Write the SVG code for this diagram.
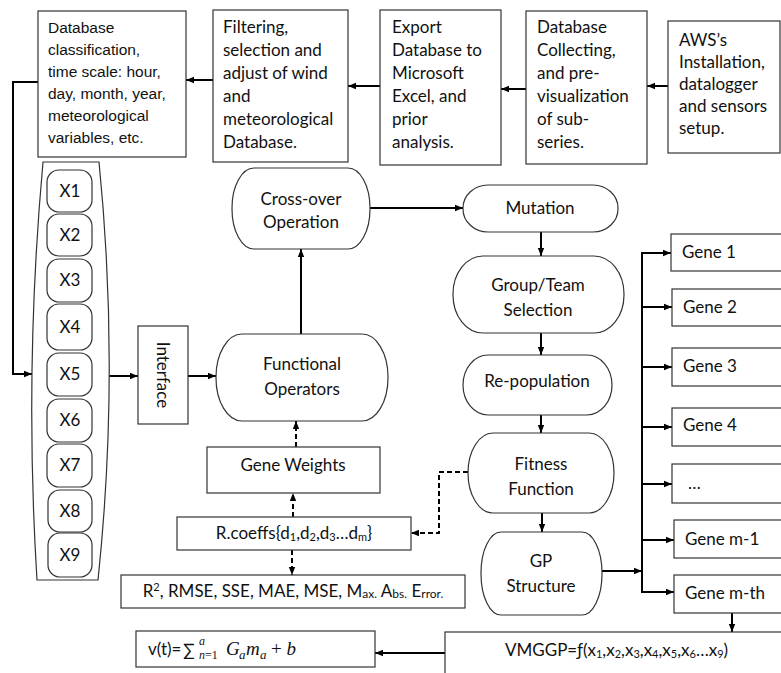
<svg xmlns="http://www.w3.org/2000/svg" width="781" height="673" viewBox="0 0 781 673">
<defs>
<style>
.box{fill:#fff;stroke:#333;stroke-width:1.2}
.t{font-family:Lato,"Open Sans",sans-serif;font-size:17px;fill:#111}
.tm{text-anchor:middle}
.ta{font-family:"Liberation Sans",Arial,sans-serif;font-size:15.5px;fill:#111}
.c{stroke:#000;stroke-width:2;fill:none}
.d{stroke-dasharray:5 3}
.m{font-family:"Liberation Serif","DejaVu Serif",serif;font-style:italic;fill:#111}
</style>
<marker id="ah" viewBox="0 0 10 10" refX="10" refY="5" markerWidth="8" markerHeight="8" markerUnits="userSpaceOnUse" orient="auto"><path d="M0,1 L10,5 L0,9 z" fill="#000"/></marker>
</defs>
<rect width="781" height="673" fill="#fff"/>

<g id="connectors">
<line class="c" x1="668" y1="86" x2="647" y2="86" marker-end="url(#ah)"/>
<line class="c" x1="526" y1="89" x2="501" y2="89" marker-end="url(#ah)"/>
<line class="c" x1="380" y1="86" x2="348" y2="86" marker-end="url(#ah)"/>
<line class="c" x1="213" y1="80" x2="186" y2="80" marker-end="url(#ah)"/>
<polyline class="c" points="38,82 13,82 13,374 32,374" marker-end="url(#ah)"/>
<line class="c" x1="109" y1="376" x2="138" y2="376" marker-end="url(#ah)"/>
<line class="c" x1="188" y1="376" x2="216" y2="376" marker-end="url(#ah)"/>
<line class="c" x1="301" y1="334" x2="301" y2="249" marker-end="url(#ah)"/>
<line class="c" x1="370" y1="208" x2="463" y2="208" marker-end="url(#ah)"/>
<line class="c" x1="541" y1="232" x2="541" y2="256" marker-end="url(#ah)"/>
<line class="c" x1="541" y1="333" x2="541" y2="355" marker-end="url(#ah)"/>
<line class="c" x1="541" y1="415" x2="541" y2="433" marker-end="url(#ah)"/>
<line class="c" x1="542" y1="513" x2="542" y2="532" marker-end="url(#ah)"/>
<line class="c" x1="602" y1="571" x2="642" y2="571" marker-end="url(#ah)"/>
<line class="c" x1="642" y1="252" x2="642" y2="593"/>
<line class="c" x1="641" y1="253" x2="671" y2="253" marker-end="url(#ah)"/>
<line class="c" x1="641" y1="307" x2="672" y2="307" marker-end="url(#ah)"/>
<line class="c" x1="641" y1="367" x2="672" y2="367" marker-end="url(#ah)"/>
<line class="c" x1="641" y1="427" x2="672" y2="427" marker-end="url(#ah)"/>
<line class="c" x1="641" y1="484" x2="672" y2="484" marker-end="url(#ah)"/>
<line class="c" x1="641" y1="540" x2="674" y2="540" marker-end="url(#ah)"/>
<line class="c" x1="641" y1="592" x2="674" y2="592" marker-end="url(#ah)"/>
<line class="c" x1="732" y1="613" x2="732" y2="632" marker-end="url(#ah)"/>
<line class="c" x1="445" y1="653" x2="375" y2="653" marker-end="url(#ah)"/>
<polyline class="c d" points="468,472 439,472 439,533 411,533" marker-end="url(#ah)"/>
<line class="c d" x1="293" y1="517" x2="293" y2="493" marker-end="url(#ah)"/>
<line class="c d" x1="296" y1="447" x2="296" y2="421" marker-end="url(#ah)"/>
<line class="c d" x1="292" y1="550" x2="292" y2="575" marker-end="url(#ah)"/>
</g>

<g id="db-classification">
<rect class="box" x="38" y="11" width="148" height="146"/>
<text class="ta" x="48" y="33">Database</text>
<text class="ta" x="48" y="55">classification,</text>
<text class="ta" x="48" y="77">time scale: hour,</text>
<text class="ta" x="48" y="99">day, month, year,</text>
<text class="ta" x="48" y="121">meteorological</text>
<text class="ta" x="48" y="143">variables, etc.</text>
</g>

<g id="filtering">
<rect class="box" x="213" y="10" width="135" height="152"/>
<text class="t" x="223" y="33">Filtering,</text>
<text class="t" x="223" y="56">selection and</text>
<text class="t" x="223" y="79">adjust of wind</text>
<text class="t" x="223" y="102">and</text>
<text class="t" x="223" y="125">meteorological</text>
<text class="t" x="223" y="148">Database.</text>
</g>

<g id="export">
<rect class="box" x="380" y="10" width="121" height="155"/>
<text class="t" x="392" y="33">Export</text>
<text class="t" x="392" y="56">Database to</text>
<text class="t" x="392" y="79">Microsoft</text>
<text class="t" x="392" y="102">Excel, and</text>
<text class="t" x="392" y="125">prior</text>
<text class="t" x="392" y="148">analysis.</text>
</g>

<g id="db-collecting">
<rect class="box" x="526" y="11" width="121" height="153"/>
<text class="t" x="537" y="33">Database</text>
<text class="t" x="537" y="56">Collecting,</text>
<text class="t" x="537" y="79">and pre-</text>
<text class="t" x="537" y="102">visualization</text>
<text class="t" x="537" y="125">of sub-</text>
<text class="t" x="537" y="148">series.</text>
</g>

<g id="aws">
<rect class="box" x="668" y="21" width="112" height="132"/>
<text class="t" x="679" y="46">AWS’s</text>
<text class="t" x="679" y="68">Installation,</text>
<text class="t" x="679" y="90">datalogger</text>
<text class="t" x="679" y="112">and sensors</text>
<text class="t" x="679" y="134">setup.</text>
</g>

<g id="x-column">
<path class="box" d="M43,162 L99,162 Q120,371 98,580 L37,580 Q24,371 43,162 Z"/>
</g>
<g id="x1"><rect class="box" x="47" y="170" width="45" height="42" rx="12"/><text class="t tm" x="70" y="197">X1</text></g>
<g id="x2"><rect class="box" x="47" y="214" width="45" height="42" rx="12"/><text class="t tm" x="70" y="241">X2</text></g>
<g id="x3"><rect class="box" x="47" y="259" width="45" height="43" rx="12"/><text class="t tm" x="70" y="286">X3</text></g>
<g id="x4"><rect class="box" x="47" y="304" width="45" height="46" rx="12"/><text class="t tm" x="70" y="333">X4</text></g>
<g id="x5"><rect class="box" x="47" y="353" width="45" height="43" rx="12"/><text class="t tm" x="70" y="380">X5</text></g>
<g id="x6"><rect class="box" x="47" y="399" width="45" height="43" rx="12"/><text class="t tm" x="70" y="426">X6</text></g>
<g id="x7"><rect class="box" x="47" y="444" width="45" height="43" rx="12"/><text class="t tm" x="70" y="471">X7</text></g>
<g id="x8"><rect class="box" x="48" y="490" width="44" height="42" rx="12"/><text class="t tm" x="70" y="517">X8</text></g>
<g id="x9"><rect class="box" x="48" y="533" width="44" height="44" rx="12"/><text class="t tm" x="70" y="561">X9</text></g>

<g id="interface">
<rect class="box" x="138" y="326" width="50" height="98"/>
<text class="t tm" transform="translate(157,375) rotate(90)" x="0" y="0">Interface</text>
</g>

<g id="functional-operators">
<rect class="box" x="216" y="334" width="172" height="87" rx="26" ry="43"/>
<text class="t tm" x="302" y="370">Functional</text>
<text class="t tm" x="302" y="395">Operators</text>
</g>

<g id="cross-over">
<rect class="box" x="232" y="168" width="138" height="81" rx="22" ry="40"/>
<text class="t tm" x="301" y="205">Cross-over</text>
<text class="t tm" x="301" y="228">Operation</text>
</g>

<g id="mutation">
<rect class="box" x="463" y="185" width="155" height="47" rx="25" ry="23"/>
<text class="t tm" x="540" y="214">Mutation</text>
</g>

<g id="group-selection">
<rect class="box" x="453" y="256" width="171" height="77" rx="30" ry="38"/>
<text class="t tm" x="538" y="291">Group/Team</text>
<text class="t tm" x="538" y="316">Selection</text>
</g>

<g id="re-population">
<rect class="box" x="463" y="355" width="149" height="60" rx="25" ry="30"/>
<text class="t tm" x="537" y="387">Re-population</text>
</g>

<g id="fitness">
<rect class="box" x="468" y="433" width="146" height="80" rx="25" ry="40"/>
<text class="t tm" x="541" y="470">Fitness</text>
<text class="t tm" x="541" y="495">Function</text>
</g>

<g id="gp-structure">
<rect class="box" x="481" y="532" width="121" height="83" rx="20" ry="41"/>
<text class="t tm" x="541" y="567">GP</text>
<text class="t tm" x="541" y="592">Structure</text>
</g>

<g id="gene-weights">
<rect class="box" x="207" y="447" width="173" height="46"/>
<text class="t tm" x="293" y="471">Gene Weights</text>
</g>

<g id="r-coeffs">
<rect class="box" x="177" y="517" width="234" height="33"/>
<text class="t tm" x="294" y="539">R.coeffs{d<tspan font-size="11" dy="2">1</tspan><tspan dy="-2">,d</tspan><tspan font-size="11" dy="2">2</tspan><tspan dy="-2">,d</tspan><tspan font-size="11" dy="2">3</tspan><tspan dy="-2">…d</tspan><tspan font-size="11" dy="2">m</tspan><tspan dy="-2">}</tspan></text>
</g>

<g id="metrics">
<rect class="box" x="121" y="575" width="344" height="33"/>
<text class="t tm" x="293" y="597" font-size="18">R<tspan font-size="11" dy="-6">2</tspan><tspan dy="6">, RMSE, SSE, MAE, MSE, M</tspan><tspan font-size="12" dy="1">ax.</tspan><tspan dy="-1"> A</tspan><tspan font-size="12" dy="1">bs.</tspan><tspan dy="-1"> E</tspan><tspan font-size="12" dy="1">rror.</tspan></text>
</g>

<g id="vt-formula">
<rect class="box" x="136" y="631" width="239" height="36"/>
<text class="t" x="148" y="655">v(t)=</text>
<text class="t" x="183" y="656" font-size="18">∑</text>
<text class="m" x="199" y="645" font-size="12">a</text>
<text class="m" x="199" y="659" font-size="12">n<tspan font-style="normal">=1</tspan></text>
<text class="m" x="226" y="655" font-size="19">G</text>
<text class="m" x="239" y="659" font-size="13">a</text>
<text class="m" x="246" y="655" font-size="19">m</text>
<text class="m" x="260" y="659" font-size="13">a</text>
<text class="m" x="271" y="655" font-size="19"><tspan font-style="normal">+</tspan> b</text>
</g>

<g id="vmggp">
<rect class="box" x="445" y="632" width="400" height="100"/>
<text class="t" x="505" y="656">VMGGP=ƒ(x<tspan font-size="11" dy="2">1</tspan><tspan dy="-2">,x</tspan><tspan font-size="11" dy="2">2</tspan><tspan dy="-2">,x</tspan><tspan font-size="11" dy="2">3</tspan><tspan dy="-2">,x</tspan><tspan font-size="11" dy="2">4</tspan><tspan dy="-2">,x</tspan><tspan font-size="11" dy="2">5</tspan><tspan dy="-2">,x</tspan><tspan font-size="11" dy="2">6</tspan><tspan dy="-2">…x</tspan><tspan font-size="11" dy="2">9</tspan><tspan dy="-2">)</tspan></text>
</g>

<g id="gene-1"><rect class="box" x="671" y="234" width="130" height="37"/><text class="t" x="682" y="258">Gene 1</text></g>
<g id="gene-2"><rect class="box" x="672" y="289" width="130" height="37"/><text class="t" x="683" y="313">Gene 2</text></g>
<g id="gene-3"><rect class="box" x="672" y="348" width="130" height="38"/><text class="t" x="683" y="372">Gene 3</text></g>
<g id="gene-4"><rect class="box" x="672" y="408" width="130" height="38"/><text class="t" x="683" y="431">Gene 4</text></g>
<g id="gene-dots"><rect class="box" x="672" y="464" width="130" height="39"/><text class="t" x="688" y="489">…</text></g>
<g id="gene-m-1"><rect class="box" x="674" y="520" width="130" height="38"/><text class="t" x="685" y="545">Gene m-1</text></g>
<g id="gene-m-th"><rect class="box" x="674" y="575" width="130" height="38"/><text class="t" x="685" y="599">Gene m-th</text></g>
</svg>
